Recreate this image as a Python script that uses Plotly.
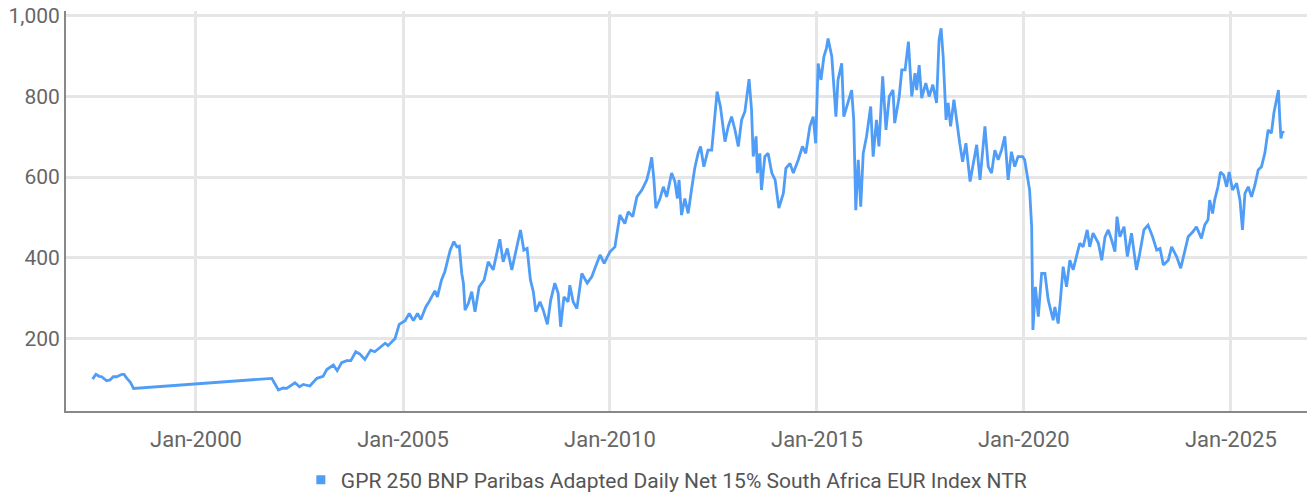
import datetime as dt
import plotly.graph_objects as go

# Decimal years
years = [
    1997.50, 1997.58, 1997.66, 1997.72, 1997.84, 1997.92, 1998.00, 1998.08, 1998.21, 1998.26,
    1998.33, 1998.41, 1998.49, 2001.83, 2001.99, 2002.10, 2002.19, 2002.39, 2002.50, 2002.59,
    2002.75, 2002.92, 2003.07, 2003.16, 2003.32, 2003.41, 2003.52, 2003.64, 2003.74, 2003.86,
    2003.96, 2004.08, 2004.22, 2004.32, 2004.57, 2004.64, 2004.81, 2004.91, 2005.05, 2005.15,
    2005.25, 2005.35, 2005.43, 2005.55, 2005.64, 2005.77, 2005.83, 2005.93, 2006.01, 2006.14,
    2006.23, 2006.30, 2006.36, 2006.42, 2006.46, 2006.50, 2006.58, 2006.66, 2006.74, 2006.84,
    2006.96, 2007.06, 2007.18, 2007.34, 2007.42, 2007.52, 2007.63, 2007.73, 2007.84, 2007.92,
    2008.00, 2008.08, 2008.15, 2008.21, 2008.31, 2008.39, 2008.49, 2008.57, 2008.67, 2008.75,
    2008.81, 2008.89, 2008.99, 2009.03, 2009.11, 2009.20, 2009.32, 2009.45, 2009.56, 2009.68,
    2009.76, 2009.86, 2010.00, 2010.12, 2010.24, 2010.36, 2010.44, 2010.55, 2010.65, 2010.77,
    2010.89, 2010.95, 2011.01, 2011.06, 2011.11, 2011.21, 2011.29, 2011.37, 2011.49, 2011.57,
    2011.63, 2011.67, 2011.73, 2011.81, 2011.89, 2011.97, 2012.05, 2012.13, 2012.19, 2012.27,
    2012.37, 2012.46, 2012.50, 2012.59, 2012.67, 2012.78, 2012.86, 2012.94, 2013.02, 2013.10,
    2013.18, 2013.26, 2013.36, 2013.42, 2013.46, 2013.53, 2013.56, 2013.62, 2013.66, 2013.74,
    2013.82, 2013.91, 2013.99, 2014.08, 2014.19, 2014.25, 2014.35, 2014.43, 2014.55, 2014.65,
    2014.73, 2014.83, 2014.91, 2014.97, 2015.03, 2015.10, 2015.17, 2015.23, 2015.27, 2015.36,
    2015.41, 2015.46, 2015.51, 2015.60, 2015.65, 2015.76, 2015.84, 2015.89, 2015.94, 2016.00,
    2016.06, 2016.12, 2016.20, 2016.30, 2016.36, 2016.44, 2016.50, 2016.59, 2016.67, 2016.75,
    2016.84, 2016.88, 2016.99, 2017.05, 2017.13, 2017.21, 2017.29, 2017.37, 2017.41, 2017.47,
    2017.53, 2017.63, 2017.71, 2017.80, 2017.89, 2017.95, 2018.00, 2018.05, 2018.12, 2018.17,
    2018.23, 2018.31, 2018.37, 2018.45, 2018.52, 2018.60, 2018.70, 2018.78, 2018.86, 2018.94,
    2019.06, 2019.14, 2019.22, 2019.30, 2019.38, 2019.46, 2019.54, 2019.62, 2019.70, 2019.78,
    2019.86, 2019.97, 2020.02, 2020.10, 2020.14, 2020.19, 2020.22, 2020.28, 2020.35, 2020.43,
    2020.51, 2020.59, 2020.71, 2020.75, 2020.83, 2020.89, 2020.95, 2021.03, 2021.11, 2021.19,
    2021.29, 2021.35, 2021.43, 2021.53, 2021.59, 2021.67, 2021.80, 2021.88, 2021.96, 2022.04,
    2022.12, 2022.20, 2022.25, 2022.32, 2022.42, 2022.50, 2022.60, 2022.72, 2022.80, 2022.90,
    2023.00, 2023.11, 2023.21, 2023.29, 2023.37, 2023.49, 2023.57, 2023.69, 2023.79, 2023.89,
    2023.97, 2024.09, 2024.17, 2024.29, 2024.37, 2024.45, 2024.49, 2024.56, 2024.61, 2024.69,
    2024.75, 2024.83, 2024.90, 2024.96, 2025.04, 2025.14, 2025.22, 2025.28, 2025.34, 2025.42,
    2025.50, 2025.58, 2025.66, 2025.74, 2025.82, 2025.90, 2025.98, 2026.04, 2026.10, 2026.15,
    2026.18, 2026.21, 2026.25, 2026.28,
]

# Index levels
index_values = [
    99, 111, 106, 105, 95, 97, 105, 105, 111, 111,
    101, 92, 76, 101, 72, 77, 76, 90, 80, 86,
    82, 101, 106, 123, 134, 120, 140, 145, 145, 167,
    161, 148, 171, 167, 188, 182, 200, 235, 244, 262,
    244, 262, 247, 278, 293, 318, 303, 345, 365, 419,
    440, 427, 429, 361, 337, 270, 287, 316, 266, 328,
    345, 390, 370, 446, 390, 423, 370, 419, 469, 419,
    423, 345, 316, 266, 291, 270, 235, 295, 337, 312,
    229, 303, 291, 332, 291, 274, 361, 337, 353, 386,
    407, 386, 415, 427, 506, 485, 514, 502, 551, 568,
    593, 618, 649, 597, 523, 547, 576, 551, 610, 589,
    547, 593, 506, 547, 510, 568, 622, 659, 676, 626,
    667, 667, 717, 812, 775, 688, 726, 750, 717, 676,
    742, 763, 843, 767, 651, 701, 610, 659, 568, 651,
    659, 610, 593, 523, 560, 622, 634, 610, 643, 676,
    659, 726, 750, 684, 882, 841, 899, 919, 944, 899,
    825, 750, 841, 882, 750, 792, 816, 742, 518, 643,
    527, 659, 701, 775, 651, 742, 676, 850, 717, 800,
    816, 734, 800, 866, 866, 936, 800, 858, 816, 878,
    796, 833, 800, 829, 784, 940, 969, 899, 742, 784,
    726, 792, 742, 684, 638, 684, 589, 634, 680, 593,
    726, 626, 610, 667, 643, 667, 701, 593, 663, 626,
    651, 651, 643, 593, 568, 477, 221, 328, 254, 361,
    361, 295, 245, 278, 237, 303, 378, 328, 394, 370,
    411, 436, 427, 469, 427, 461, 436, 394, 452, 469,
    444, 415, 502, 452, 477, 403, 461, 370, 411, 469,
    481, 452, 419, 423, 382, 394, 427, 403, 374, 415,
    452, 465, 477, 448, 481, 494, 543, 510, 543, 576,
    613, 605, 576, 613, 568, 585, 543, 469, 560, 576,
    551, 580, 618, 626, 659, 717, 709, 759, 792, 816,
    750, 696, 713, 709,
]

series_name = "GPR 250 BNP Paribas Adapted Daily Net 15% South Africa EUR Index NTR"
y_ticks = [200, 400, 600, 800, 1000]


def to_date(y):
    yr = int(y)
    return dt.datetime(yr, 1, 1) + dt.timedelta(days=(y - yr) * 365.25)


dates = [to_date(y) for y in years]

LINE = "#4f9df7"
FONT = "Roboto, Liberation Sans, sans-serif"

fig = go.Figure()
fig.add_trace(go.Scatter(
    x=dates, y=index_values, mode="lines",
    line=dict(color=LINE, width=2.8),
    showlegend=False, name=series_name, hoverinfo="skip",
))
fig.add_trace(go.Scatter(
    x=[None], y=[None], mode="markers",
    marker=dict(symbol="square", size=9, color=LINE),
    name=series_name, showlegend=True,
))

fig.update_layout(
    width=1308, height=495,
    margin=dict(l=66, r=1, t=11, b=84),
    paper_bgcolor="white", plot_bgcolor="white",
    font=dict(family=FONT, size=21, color="#666666"),
    legend=dict(orientation="h", xref="container", yref="container",
                x=0.230, xanchor="left", y=0.03, yanchor="middle",
                font=dict(family=FONT, size=21, color="#555555"),
                itemwidth=30, tracegroupgap=0),
)
fig.update_xaxes(
    type="date",
    range=[to_date(1996.86), to_date(2026.84)],
    tick0="2000-01-01", dtick="M60", tickformat="%b-%Y",
    showgrid=True, gridcolor="#e6e6e6", gridwidth=2.5,
    showline=True, linecolor="#888888", linewidth=2,
    ticks="", zeroline=False, automargin=False,
    ticklabelstandoff=8,
    tickfont=dict(family=FONT, size=22, color="#666666"),
)
fig.update_yaxes(
    range=[20, 1012],
    tickvals=y_ticks, tickformat=",",
    showgrid=True, gridcolor="#e6e6e6", gridwidth=2.5,
    showline=True, linecolor="#888888", linewidth=2,
    ticks="", zeroline=False, automargin=False,
    ticklabeloverflow="allow",
    tickfont=dict(family=FONT, size=21, color="#666666"),
)

fig.write_html(
    "out.html",
    config={"displayModeBar": False},
    post_script="document.body.style.margin='0';document.body.style.overflow='hidden';",
)
